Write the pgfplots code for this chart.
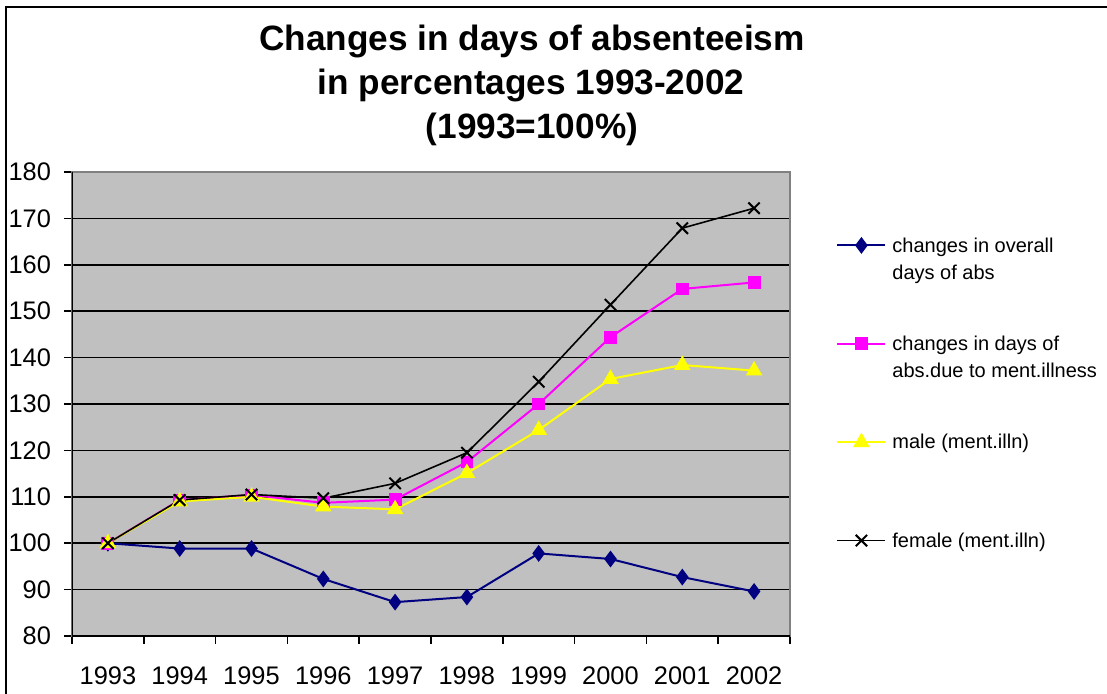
\documentclass[border=0pt]{standalone}
\usepackage{fontspec}
\setmainfont{Liberation Sans}
\usepackage{pgfplots}
\pgfplotsset{compat=1.18}
\definecolor{plotgray}{HTML}{C0C0C0}
\definecolor{edgegray}{HTML}{808080}
\definecolor{navyc}{HTML}{000080}
\definecolor{magc}{HTML}{FF00FF}
\definecolor{yelc}{HTML}{FFFF00}
\newcommand{\leg}[2]{\begin{tabular}[t]{@{}l@{}}#1\\#2\strut\end{tabular}}
\begin{document}
\begin{tikzpicture}
\useasboundingbox (-36pt,-28.5pt) rectangle (517.5pt,318pt);
\draw[line width=1pt] (-33pt,-40pt) -- (-33pt,314.5pt) -- (530pt,314.5pt);
\node[anchor=base, font=\bfseries\fontsize{17.6}{22}\selectfont] at (230pt,293pt) {Changes in days of absenteeism};
\node[anchor=base, font=\bfseries\fontsize{17.6}{22}\selectfont] at (229.5pt,271pt) {in percentages 1993-2002};
\node[anchor=base, font=\bfseries\fontsize{17.6}{22}\selectfont] at (230pt,249pt) {(1993=100\%)};
\begin{axis}[
  at={(0pt,0pt)}, anchor=south west,
  scale only axis, width=359pt, height=232pt,
  xmin=1992.5, xmax=2002.5, ymin=80, ymax=180,
  xtick={1993,...,2002}, ytick={80,90,...,180},
  minor xtick={1992.5,1993.5,...,2002.5},
  xtick pos=left, ytick pos=left,
  tick align=outside, major tick length=4pt, minor tick length=4pt,
  major x tick style={draw=none},
  tick style={black, line width=0.75pt},
  minor x tick style={black, line width=0.75pt},
  ymajorgrids, grid style={black, line width=0.75pt},
  axis background/.style={fill=plotgray},
  axis line style={edgegray, line width=0.75pt},
  /pgf/number format/assume math mode=true,
  /pgf/number format/1000 sep={},
  tick label style={font=\fontsize{12.7}{15}\selectfont},
  yticklabel style={xshift=-3pt},
  xticklabel style={yshift=-8pt},
  legend image code/.code={\draw[mark repeat=2,mark phase=2,#1] plot coordinates {(0pt,3.3pt)(12pt,3.3pt)(24pt,3.3pt)};},
  legend style={at={(axis description cs:1.0641,0.8692)}, anchor=north west, draw=none, fill=none, inner sep=0pt, row sep=22.2pt, column sep=3pt, font=\fontsize{10}{13.5}\selectfont, nodes={inner sep=0pt, text depth=}, cells={anchor=base west}},
]
\addplot[navyc, line width=1pt, mark=diamond*, mark size=3.4pt, mark options={solid, fill=navyc}] coordinates {
(1993,100) (1994,98.85) (1995,98.85) (1996,92.3) (1997,87.3) (1998,88.4) (1999,97.8) (2000,96.6) (2001,92.7) (2002,89.6)};
\addlegendentry{\leg{changes in overall}{days of abs}}
\addplot[magc, line width=1pt, mark=square*, mark size=2.7pt, mark options={solid, fill=magc}] coordinates {
(1993,100) (1994,109.3) (1995,110.4) (1996,108.7) (1997,109.4) (1998,117.5) (1999,130.0) (2000,144.4) (2001,154.8) (2002,156.2)};
\addlegendentry{\leg{changes in days of}{abs.due to ment.illness}}
\addplot[yelc, line width=1pt, mark=triangle*, mark size=3.8pt, mark options={solid, fill=yelc}] coordinates {
(1993,100) (1994,109.0) (1995,110.0) (1996,107.9) (1997,107.3) (1998,115.1) (1999,124.4) (2000,135.4) (2001,138.4) (2002,137.2)};
\addlegendentry{\leg{male (ment.illn)}{}}
\addplot[black, line width=0.8pt, mark=x, mark size=4pt, mark options={solid, line width=1pt}] coordinates {
(1993,100) (1994,109.3) (1995,110.5) (1996,109.7) (1997,112.9) (1998,119.5) (1999,134.8) (2000,151.4) (2001,167.9) (2002,172.2)};
\addlegendentry{\leg{female (ment.illn)}{}}
\draw[edgegray, line width=0.75pt] (rel axis cs:0,1) -- (rel axis cs:1,1) -- (rel axis cs:1,0);
\draw[black, line width=1pt] (rel axis cs:0,1) -- (rel axis cs:0,0) -- (rel axis cs:1,0);
\draw[black, line width=1pt] (axis description cs:1.0501,0.9181) rectangle (axis description cs:1.4262,0.0690);
\end{axis}
\end{tikzpicture}
\end{document}
